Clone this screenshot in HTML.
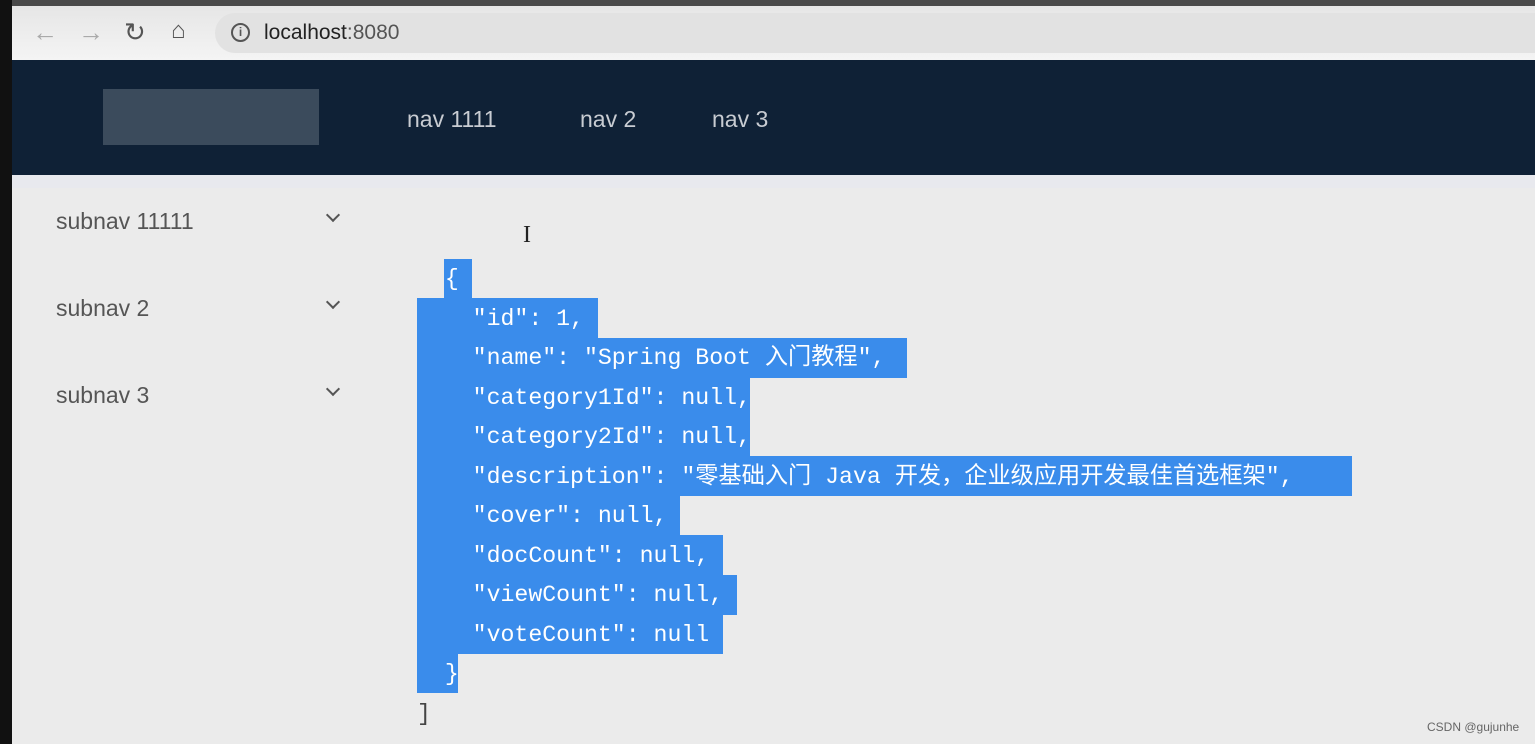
<!DOCTYPE html>
<html><head><meta charset="utf-8"><style>
*{margin:0;padding:0;box-sizing:border-box}
body{width:1535px;height:744px;overflow:hidden;background:#ebebeb;position:relative;font-family:"Liberation Sans","Noto Sans CJK SC",sans-serif}
.a{position:absolute}
.hl{position:absolute;background:#3a8ceb}
.ln{position:absolute;left:417px;height:39.5px;line-height:41px;font-family:"Liberation Mono","Noto Sans CJK SC",monospace;font-size:23.2px;color:#fff;white-space:pre}
.sub{position:absolute;left:56px;font-size:23px;color:#555}
.chev{position:absolute;left:328px;width:10px;height:10px;border-right:2px solid #555;border-bottom:2px solid #555;transform:rotate(45deg)}
.nav{position:absolute;top:106px;font-size:23px;color:#c8ccd2}
</style></head><body>
<div class="a" style="left:0;top:0;width:12px;height:744px;background:#111"></div>
<div class="a" style="left:12px;top:0;width:1523px;height:6px;background:#4a4a4a"></div>
<div class="a" style="left:12px;top:6px;width:1523px;height:54px;background:linear-gradient(#e6e6e6,#f4f4f4)"></div>
<div class="a" style="left:215px;top:13px;width:1320px;height:40px;border-radius:20px 0 0 20px;background:#e2e2e2"></div>
<div class="a" style="left:32px;top:17px;font-size:26px;color:#aaa">&#8592;</div>
<div class="a" style="left:78px;top:17px;font-size:26px;color:#aaa">&#8594;</div>
<div class="a" style="left:124px;top:17px;font-size:26px;color:#555">&#8635;</div>
<div class="a" style="left:171px;top:17px;font-size:24px;color:#555">&#8962;</div>
<div class="a" style="left:231px;top:23px;width:19px;height:19px;border:2px solid #555;border-radius:50%;font-size:12px;font-weight:bold;color:#555;text-align:center;line-height:15px">i</div>
<div class="a" style="left:264px;top:21px;font-size:21px;color:#222">localhost<span style="color:#555">:8080</span></div>
<div class="a" style="left:12px;top:60px;width:1523px;height:115px;background:#0f2136"></div>
<div class="a" style="left:103px;top:89px;width:216px;height:56px;background:#3b4b5c"></div>
<div class="nav" style="left:407px">nav 1111</div>
<div class="nav" style="left:580px">nav 2</div>
<div class="nav" style="left:712px">nav 3</div>
<div class="a" style="left:12px;top:175px;width:1523px;height:13px;background:#e8e9ee"></div>
<div class="sub" style="top:208px">subnav 11111</div>
<div class="sub" style="top:295px">subnav 2</div>
<div class="sub" style="top:382px">subnav 3</div>
<div class="chev" style="top:210px"></div>
<div class="chev" style="top:297px"></div>
<div class="chev" style="top:384px"></div>
<div class="a" style="left:523px;top:222px;font-size:24px;color:#222;font-family:'Liberation Serif',serif">I</div>

<div class="hl" style="left:444px;top:259px;width:28px;height:40px"></div>
<div class="hl" style="left:417px;top:298px;width:181px;height:40px"></div>
<div class="hl" style="left:417px;top:338px;width:490px;height:40px"></div>
<div class="hl" style="left:417px;top:377px;width:333px;height:40px"></div>
<div class="hl" style="left:417px;top:417px;width:333px;height:40px"></div>
<div class="hl" style="left:417px;top:456px;width:935px;height:40px"></div>
<div class="hl" style="left:417px;top:496px;width:263px;height:40px"></div>
<div class="hl" style="left:417px;top:535px;width:306px;height:40px"></div>
<div class="hl" style="left:417px;top:575px;width:320px;height:40px"></div>
<div class="hl" style="left:417px;top:614px;width:306px;height:40px"></div>
<div class="hl" style="left:417px;top:654px;width:41px;height:39px"></div>

<div class="ln" style="top:259px">  {</div>
<div class="ln" style="top:298.5px">    "id": 1,</div>
<div class="ln" style="top:338px">    "name": "Spring Boot 入门教程",</div>
<div class="ln" style="top:377.5px">    "category1Id": null,</div>
<div class="ln" style="top:417px">    "category2Id": null,</div>
<div class="ln" style="top:456.5px">    "description": "零基础入门 Java 开发，企业级应用开发最佳首选框架",</div>
<div class="ln" style="top:496px">    "cover": null,</div>
<div class="ln" style="top:535.5px">    "docCount": null,</div>
<div class="ln" style="top:575px">    "viewCount": null,</div>
<div class="ln" style="top:614.5px">    "voteCount": null</div>
<div class="ln" style="top:654px">  }</div>
<div class="ln" style="top:693.5px;color:#444">]</div>
<div class="a" style="left:1427px;top:720px;font-size:12px;color:#666">CSDN @gujunhe</div>
</body></html>
